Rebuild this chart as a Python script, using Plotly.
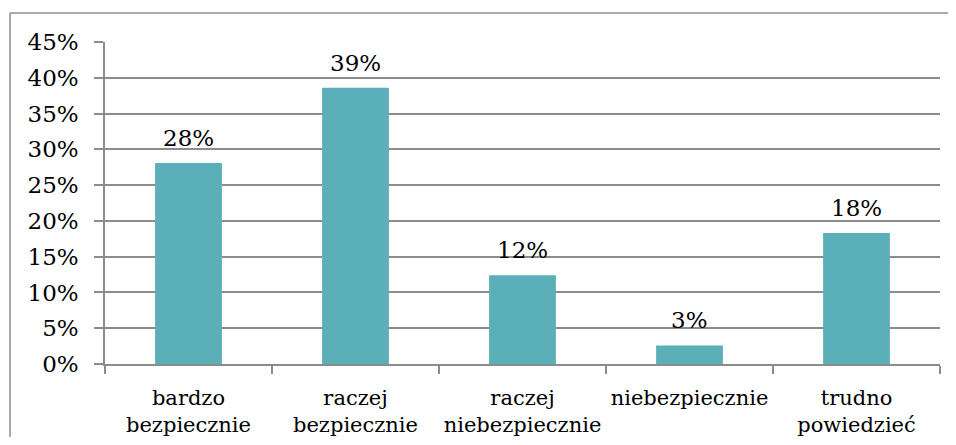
import plotly.graph_objects as go

categories = ["bardzo<br>bezpiecznie", "raczej<br>bezpiecznie", "raczej<br>niebezpiecznie",
              "niebezpiecznie", "trudno<br>powiedzieć"]
values = [28.1, 38.6, 12.4, 2.6, 18.3]
value_labels = ["28%", "39%", "12%", "3%", "18%"]
y_tickvals = [0, 5, 10, 15, 20, 25, 30, 35, 40, 45]
y_ticktext = ["0%", "5%", "10%", "15%", "20%", "25%", "30%", "35%", "40%", "45%"]

FONT = "DejaVu Serif"
GRID = "#8c8c8c"
FS_CAT = 21
FS_NUM = 23
OFF = 8  # default body margin of the html page

fig = go.Figure(go.Bar(
    x=categories, y=values,
    marker=dict(color="#5BAFB8", line=dict(width=0)),
))
for c, v, t in zip(categories, values, value_labels):
    fig.add_annotation(x=c, y=v, text=t, showarrow=False, yanchor="bottom",
                       yshift=10, font=dict(family=FONT, size=FS_NUM, color="black"))

W, H = 956 - 2 * OFF, 445 - 2 * OFF
L, T = 105 - OFF, 42 - OFF
R = W - (940 - OFF)
B = H - (364 - OFF)
pw, ph = W - L - R, H - T - B

fx0 = (10 - OFF - L) / pw
fx1 = (W + 30 - L) / pw
fy0 = -(H + 30 - (T + ph)) / ph
fy1 = 1 + (T - (13 - OFF)) / ph

fig.update_layout(
    width=W, height=H,
    margin=dict(l=L, r=R, t=T, b=B, autoexpand=False),
    paper_bgcolor="white", plot_bgcolor="white",
    bargap=0.6, showlegend=False,
    font=dict(family=FONT, size=FS_CAT, color="black"),
    shapes=[
        dict(type="line", xref="paper", yref="paper", x0=fx0, x1=fx0, y0=fy0, y1=fy1,
             line=dict(color=GRID, width=1.5), layer="below"),
        dict(type="line", xref="paper", yref="paper", x0=fx0, x1=fx1, y0=fy1, y1=fy1,
             line=dict(color=GRID, width=1.5), layer="below"),
    ],
)
fig.update_xaxes(
    showline=True, linecolor=GRID, linewidth=1.5,
    ticks="outside", tickson="boundaries", ticklen=8, tickcolor=GRID, tickwidth=1.5,
    tickfont=dict(family=FONT, size=FS_CAT, color="black"),
    showgrid=False, ticklabelstandoff=14, tickangle=0, automargin=False,
)
fig.update_yaxes(
    range=[0, 45], tickvals=y_tickvals, ticktext=y_ticktext,
    showline=True, linecolor=GRID, linewidth=1.5,
    ticks="outside", ticklen=9, tickcolor=GRID, tickwidth=1.5,
    showgrid=True, gridcolor=GRID, gridwidth=1.5,
    tickfont=dict(family=FONT, size=FS_NUM, color="black"),
    ticklabelstandoff=11, zeroline=False, automargin=False,
)

fig.write_html("out.html")
